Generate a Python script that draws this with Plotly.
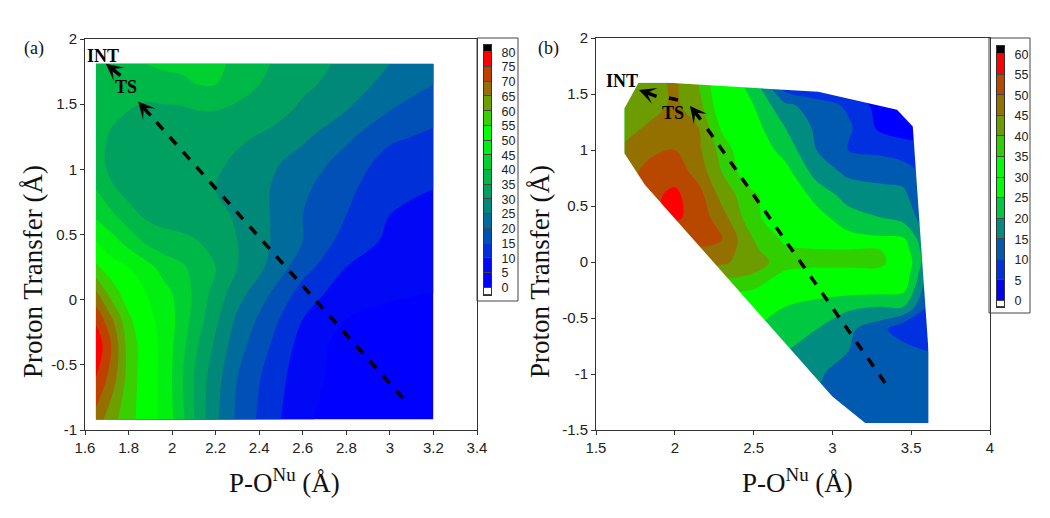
import plotly.graph_objects as go

# panel (a) energy surface
a_x = [1.65, 1.72, 1.8, 1.88, 1.96, 2.04, 2.12, 2.2, 2.3, 2.45, 2.6, 2.8, 3.0, 3.2]
a_y = [-0.92, -0.6, -0.35, -0.15, 0.05, 0.25, 0.45, 0.65, 0.85, 1.05, 1.25, 1.45, 1.65, 1.81]
a_z = [
    [68, 62, 57, 52, 49, 42, 33, 26, 19, 12, 6, 2, 1, 1],
    [75, 68, 58, 52, 49, 41, 33, 27, 20, 13, 7, 3, 1, 1],
    [79, 70, 58, 52, 49, 42, 35, 29, 22, 15, 8, 3, 1, 1],
    [74, 66, 56, 51, 49, 43, 37, 31, 24, 17, 10, 5, 3, 2],
    [66, 58, 52, 50, 47, 43, 38, 33, 27, 20, 13, 7, 6, 5],
    [56, 52, 50, 47, 43, 41, 38, 35, 30, 24, 17, 10, 8, 7],
    [50, 47, 43, 39, 37, 36, 35, 34, 30, 25, 20, 13, 9, 8],
    [44, 41, 37, 34, 33, 33, 33, 32, 29, 25, 20, 15, 10, 9],
    [40, 36, 33, 31, 31, 31, 31, 30, 28, 25, 21, 16, 12, 10],
    [38, 33, 31, 31, 31, 31, 31, 31, 29, 26, 23, 18, 13, 12],
    [38, 34, 32, 31, 31, 32, 33, 33, 31, 29, 26, 21, 16, 14],
    [40, 37, 35, 34, 34, 34, 35, 35, 34, 32, 29, 25, 20, 17],
    [39, 38, 37, 37, 38, 39, 40, 40, 37, 34, 31, 28, 23, 20],
    [39, 39, 39, 40, 41, 41, 42, 42, 38, 35, 32, 29, 25, 22],
]
a_levels = list(range(0, 85, 5))
a_colors = [
    "#ffffff", "#0000ff", "#0008f5", "#0030d8", "#0050b8", "#006c9c", "#008878",
    "#00a060", "#00b848", "#00d030", "#00f010", "#00ff00", "#38d000", "#6ca000",
    "#947000", "#c04000", "#ff0000", "#000000",
]

# panel (b) energy surface, trimmed by b_edge_x / b_edge_y
b_x = [1.68, 1.85, 2.0, 2.15, 2.3, 2.5, 2.7, 2.9, 3.1, 3.3, 3.45, 3.61]
b_y = [-1.44, -1.2, -1.0, -0.8, -0.6, -0.4, -0.2, -0.1, 0, 0.1, 0.2, 0.4, 0.6, 0.8, 1.0, 1.2, 1.4, 1.6]
b_z = [
    [15, 15, 15, 15, 15, 15, 15, 14, 12, 12, 12, 12],
    [18, 18, 18, 18, 18, 17, 16, 15, 12, 12, 12, 12],
    [20, 20, 20, 20, 20, 18, 17, 16, 12, 11, 11, 11],
    [25, 25, 25, 25, 25, 22, 20, 18, 15, 14, 13, 10],
    [28, 28, 28, 28, 28, 25, 22, 20, 16, 12, 6, 6],
    [30, 30, 30, 30, 30, 28, 25, 23, 21, 20, 20, 9],
    [38, 38, 38, 38, 38, 37, 30, 29, 29, 29, 28, 12],
    [41, 41, 42, 42, 42, 40, 34, 33, 33, 33, 29, 14],
    [44, 45, 46, 46, 46, 42, 38, 37, 37, 37, 30, 16],
    [45, 47, 48, 49, 48, 41, 36, 36, 36, 36, 28, 16],
    [46, 48, 50, 52, 50, 40, 34, 30, 27, 26, 26, 15],
    [50, 54, 56, 53, 47, 36, 32, 27, 22, 20, 18, 12],
    [50, 54, 56, 52, 43, 36, 30, 23, 18, 17, 16, 10],
    [48, 52, 53, 48, 40, 30, 27, 18, 14, 13, 13, 8],
    [46, 49, 50, 46, 38, 29, 23, 15, 10, 9, 7, 6],
    [43, 46, 47, 45, 34, 27, 20, 14, 11, 4, 3, 3],
    [42, 43, 46, 42, 31, 25, 16, 13, 9, 3, 3, 3],
    [42, 43, 46, 40, 30, 22, 6, 2, 2, 2, 2, 2],
]
b_levels = list(range(0, 65, 5))
b_colors = [
    "#ffffff", "#0000ff", "#0030e0", "#005ab0", "#008c80", "#00c840", "#00ff00",
    "#00ff00", "#30d000", "#6c9c00", "#947000", "#b84800", "#ff0000", "#000000",
]
b_edge_x = [1.77, 1.96, 2.91, 3.41, 3.51, 3.61, 3.61, 3.21, 3.0, 1.81, 1.68, 1.68, 1.77]
b_edge_y = [1.6, 1.6, 1.52, 1.36, 1.21, -0.8, -1.44, -1.44, -1.2, 0.69, 0.97, 1.37, 1.6]

# reaction paths
a_path_x = [3.06, 1.908]
a_path_y = [-0.755, 1.40]
b_path_x = [3.334, 2.172]
b_path_y = [-1.08, 1.259]
b_dash_x = [1.963, 2.02]
b_dash_y = [1.464, 1.446]

# tick labels
a_x_ticks = [1.6, 1.8, 2, 2.2, 2.4, 2.6, 2.8, 3, 3.2, 3.4]
a_y_ticks = [-1, -0.5, 0, 0.5, 1, 1.5, 2]
a_y_labels = ["-1", "-0.5", "0", "0.5", "1", "1.5", "2"]
b_x_ticks = [1.5, 2, 2.5, 3, 3.5, 4]
b_y_ticks = [-1.5, -1, -0.5, 0, 0.5, 1, 1.5, 2]
b_y_labels = ["-1.5", "-1", "-0.5", "0", "0.5", "1", "1.5", "2"]


def steps(colors):
    """Stepped colorscale, one flat band per contour interval."""
    scale = []
    n = len(colors)
    for i, c in enumerate(colors):
        scale.append([i / n, c])
        scale.append([(i + 1) / n, c])
    return scale


# the page body keeps its 8px margin, so the figure is 16px smaller than the window
PAGE_MARGIN = 8
W, H = 1050 - 2 * PAGE_MARGIN, 518 - 2 * PAGE_MARGIN


def px_x(v):
    return (v - PAGE_MARGIN) / W


def px_y(v):
    return 1 - (v - PAGE_MARGIN) / H


def level_bar(levels, low, high, colors, zmin, zmax, xaxis, yaxis):
    """Legend strip: one cell per band, with a short under and over cell."""
    edges = [low] + levels + [high]
    mids = [(edges[i] + edges[i + 1]) / 2 for i in range(len(edges) - 1)]
    return go.Heatmap(
        x=[0, 1], y=edges, z=[[m] for m in mids], xaxis=xaxis, yaxis=yaxis,
        colorscale=steps(colors), zmin=zmin, zmax=zmax, showscale=False, ygap=1,
        hoverinfo="skip",
    )


fig = go.Figure()

fig.add_trace(
    go.Contour(
        x=a_x, y=a_y, z=a_z, xaxis="x", yaxis="y",
        autocontour=False,
        contours=dict(start=0, end=80, size=5, coloring="fill", showlines=False),
        colorscale=steps(a_colors), zmin=-5, zmax=85,
        line=dict(width=0), showscale=False,
    )
)
fig.add_trace(
    go.Contour(
        x=b_x, y=b_y, z=b_z, xaxis="x2", yaxis="y2",
        autocontour=False,
        contours=dict(start=0, end=60, size=5, coloring="fill", showlines=False),
        colorscale=steps(b_colors), zmin=-5, zmax=65,
        line=dict(width=0), showscale=False,
    )
)
fig.add_trace(level_bar(a_levels, -2.5, 82.5, a_colors, -5, 85, "x3", "y3"))
fig.add_trace(level_bar(b_levels, -1.5, 62, b_colors, -5, 65, "x4", "y4"))

# white mask outside the sampled region of panel (b)
mask_x = [1.5, 4, 4, 1.5, 1.5] + b_edge_x[::-1] + [1.5]
mask_y = [2, 2, -1.5, -1.5, 2] + b_edge_y[::-1] + [2]
fig.add_trace(
    go.Scatter(
        x=mask_x, y=mask_y, xaxis="x2", yaxis="y2", mode="lines",
        fill="toself", fillcolor="white", line=dict(width=0),
        hoverinfo="skip", showlegend=False,
    )
)

path_style = dict(color="black", width=3.5, dash="10px,10px")
fig.add_trace(go.Scatter(x=a_path_x, y=a_path_y, xaxis="x", yaxis="y", mode="lines",
                         line=path_style, showlegend=False))
fig.add_trace(go.Scatter(x=b_path_x, y=b_path_y, xaxis="x2", yaxis="y2", mode="lines",
                         line=path_style, showlegend=False))
fig.add_trace(go.Scatter(x=b_dash_x, y=b_dash_y, xaxis="x2", yaxis="y2", mode="lines",
                         line=dict(color="black", width=3.5), showlegend=False))

# arrow heads
arrows = [
    ("x", "y", 1.77, 1.71, 1.696, 1.81),
    ("x", "y", 1.908, 1.40, 1.844, 1.52),
    ("x2", "y2", 1.894, 1.473, 1.773, 1.536),
    ("x2", "y2", 2.172, 1.259, 2.096, 1.393),
]
for xr, yr, x0, y0, x1, y1 in arrows:
    fig.add_annotation(
        x=x1, y=y1, ax=x0, ay=y0, xref=xr, yref=yr, axref=xr, ayref=yr,
        text="", showarrow=True, arrowhead=3, arrowsize=0.8, arrowwidth=3.5, arrowcolor="black",
    )

# state labels
labels = [
    ("x", "y", 1.683, 1.87, "INT"),
    ("x", "y", 1.788, 1.63, "TS"),
    ("x2", "y2", 1.665, 1.62, "INT"),
    ("x2", "y2", 1.989, 1.33, "TS"),
]
for xr, yr, x, y, t in labels:
    fig.add_annotation(x=x, y=y, xref=xr, yref=yr, text=f"<b>{t}</b>", showarrow=False,
                       xanchor="center", yanchor="middle",
                       font=dict(family="Liberation Serif", size=18, color="black"))

serif = dict(family="Liberation Serif", color="#111")
for px, t in [(34, "(a)"), (548, "(b)")]:
    fig.add_annotation(x=px_x(px), y=px_y(48), xref="paper", yref="paper", text=t,
                       xanchor="center", yanchor="middle",
                       showarrow=False, font=dict(size=18, **serif))

# axis titles
x_title = "P-O<sup>Nu</sup> (Å)"
y_title = "Proton Transfer (Å)"
for px in (284, 797):
    fig.add_annotation(x=px_x(px), y=px_y(481), xref="paper", yref="paper", text=x_title,
                       xanchor="center", yanchor="middle",
                       showarrow=False, font=dict(size=27, **serif))
for px in (33, 540):
    fig.add_annotation(x=px_x(px), y=px_y(272), xref="paper", yref="paper", text=y_title,
                       xanchor="center", yanchor="middle",
                       textangle=-90, showarrow=False, font=dict(size=27, **serif))

# legend boxes and the dark backing that shows between the cells
fig.add_shape(type="rect", xref="paper", yref="paper", x0=px_x(477), x1=px_x(518),
              y0=px_y(301), y1=px_y(38), line=dict(color="#444", width=1))
fig.add_shape(type="rect", xref="paper", yref="paper", x0=px_x(989), x1=px_x(1030),
              y0=px_y(313), y1=px_y(38), line=dict(color="#444", width=1))
fig.add_shape(type="rect", xref="paper", yref="paper", layer="below", x0=px_x(484), x1=px_x(491),
              y0=px_y(295), y1=px_y(45), line=dict(width=0), fillcolor="#444")
fig.add_shape(type="rect", xref="paper", yref="paper", layer="below", x0=px_x(997), x1=px_x(1004),
              y0=px_y(307), y1=px_y(46), line=dict(width=0), fillcolor="#444")

axis_style = dict(
    showgrid=False, zeroline=False, showline=True, mirror=True, linecolor="#333", linewidth=1,
    ticks="outside", ticklen=4, tickcolor="#333", tickwidth=1, automargin=False,
    tickfont=dict(family="Liberation Sans", size=15, color="#222"),
)
bar_x = dict(showgrid=False, zeroline=False, showticklabels=False, ticks="", showline=True,
             mirror=True, linecolor="#333", linewidth=1, range=[0, 1], automargin=False)
bar_y = dict(showgrid=False, zeroline=False, showline=True, mirror=True, linecolor="#333",
             linewidth=1, ticks="", side="right", automargin=False, ticklabelstandoff=7,
             tickfont=dict(family="Liberation Sans", size=12.5, color="#222"))

fig.update_layout(
    width=W, height=H, margin=dict(l=0, r=0, t=0, b=0),
    paper_bgcolor="white", plot_bgcolor="rgba(0,0,0,0)", showlegend=False,
    xaxis=dict(domain=[px_x(85), px_x(477)], range=[1.6, 3.4], tickvals=a_x_ticks, **axis_style),
    yaxis=dict(domain=[px_y(430), px_y(39)], range=[-1, 2], tickvals=a_y_ticks,
               ticktext=a_y_labels, **axis_style),
    xaxis2=dict(domain=[px_x(596), px_x(990)], range=[1.5, 4], tickvals=b_x_ticks, anchor="y2",
                **axis_style),
    yaxis2=dict(domain=[px_y(430), px_y(38)], range=[-1.5, 2], tickvals=b_y_ticks,
                ticktext=b_y_labels, anchor="x2", **axis_style),
    xaxis3=dict(domain=[px_x(484), px_x(491)], anchor="y3", **bar_x),
    yaxis3=dict(domain=[px_y(295), px_y(45)], range=[-2.5, 82.5], tickvals=a_levels, anchor="x3", **bar_y),
    xaxis4=dict(domain=[px_x(997), px_x(1004)], anchor="y4", **bar_x),
    yaxis4=dict(domain=[px_y(307), px_y(46)], range=[-1.5, 62], tickvals=b_levels, anchor="x4", **bar_y),
)

fig.write_html("out.html")
